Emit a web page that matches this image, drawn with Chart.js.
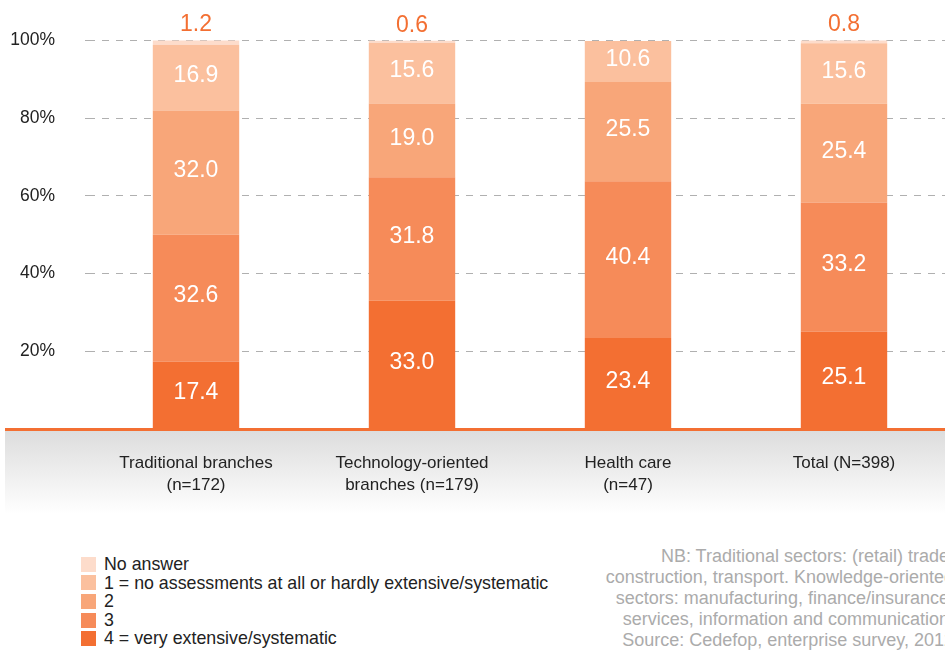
<!DOCTYPE html>
<html>
<head>
<meta charset="utf-8">
<script src="https://cdn.jsdelivr.net/npm/chart.js@4"></script>
<style>
  html, body { margin: 0; padding: 0; width: 945px; height: 650px; overflow: hidden; background: #fff; }
  body { position: relative; font-family: "Liberation Sans", Arial, sans-serif; }
  #wrap { position: absolute; left: 0; top: 0; width: 952px; height: 520px; }
  #legend { position: absolute; left: 81px; top: 555px; font-size: 17.8px; color: #222; }
  #legend div { height: 18.6px; line-height: 18.6px; display: flex; align-items: center; }
  #legend span.box { width: 15px; height: 15px; margin-right: 8px; display: inline-block; }
  #note { position: absolute; right: -9px; top: 546px; font-size: 18px; line-height: 21px; color: #ababab; text-align: right; white-space: nowrap; }
</style>
</head>
<body>
<div id="wrap"><canvas id="chart" width="952" height="520"></canvas></div>
<div id="legend"></div>
<div id="note"></div>
<script>
// ===== data =====
const categories = [
  ['Traditional branches', '(n=172)'],
  ['Technology-oriented', 'branches (n=179)'],
  ['Health care', '(n=47)'],
  'Total (N=398)'
];
const seriesNames = ['4 = very extensive/systematic', '3', '2', '1 = no assessments at all or hardly extensive/systematic', 'No answer'];
const level4   = [17.4, 33.0, 23.4, 25.1];
const level3   = [32.6, 31.8, 40.4, 33.2];
const level2   = [32.0, 19.0, 25.5, 25.4];
const level1   = [16.9, 15.6, 10.6, 15.6];
const noAnswer = [1.2, 0.6, 0, 0.8];
const yTicks = [0, 20, 40, 60, 80, 100];
const noteLines = [
  'NB: Traditional sectors: (retail) trade,',
  'construction, transport. Knowledge-oriented',
  'sectors: manufacturing, finance/insurance,',
  'services, information and communication.',
  'Source: Cedefop, enterprise survey, 2012'
];

const colors = ['#F36F32', '#F68B59', '#F8A679', '#FBC09E', '#FDDCCB'];
const FONT = '"Liberation Sans", Arial, sans-serif';

const seriesValues = [level4, level3, level2, level1, noAnswer];
const datasets = seriesValues.map((vals, i) => ({
  label: seriesNames[i],
  data: vals,
  backgroundColor: colors[i],
  borderWidth: 0,
  barPercentage: 0.8,
  categoryPercentage: 0.5
}));

// gray band + orange axis under the bars, value labels on top
const decor = {
  id: 'decor',
  beforeDraw(chart) {
    const { ctx, chartArea } = chart;
    const y0 = chartArea.bottom;
    const g = ctx.createLinearGradient(0, y0, 0, y0 + 85);
    g.addColorStop(0, '#dcdcdc');
    g.addColorStop(1, '#ffffff');
    ctx.save();
    ctx.fillStyle = g;
    ctx.fillRect(5, y0, chart.width, 85);
    ctx.restore();
  },
  afterDatasetsDraw(chart) {
    const { ctx, chartArea } = chart;
    ctx.save();
    ctx.fillStyle = '#F36F32';
    ctx.fillRect(5, chartArea.bottom - 1, chart.width, 3);
    ctx.font = '23px ' + FONT;
    ctx.textAlign = 'center';
    ctx.textBaseline = 'middle';
    chart.data.datasets.forEach((ds, i) => {
      const meta = chart.getDatasetMeta(i);
      meta.data.forEach((bar, j) => {
        const v = ds.data[j];
        if (!v) return;
        if (i === chart.data.datasets.length - 1) {
          ctx.fillStyle = '#F36F32';
          ctx.fillText(v.toFixed(1), bar.x, bar.y - 15);
        } else {
          ctx.fillStyle = '#ffffff';
          ctx.fillText(v.toFixed(1), bar.x, (bar.y + bar.base) / 2 - 2);
        }
      });
    });
    ctx.restore();
  }
};

new Chart(document.getElementById('chart').getContext('2d'), {
  type: 'bar',
  data: { labels: categories, datasets },
  plugins: [decor],
  options: {
    responsive: false,
    animation: false,
    layout: { padding: { top: 39, right: 0, left: 0, bottom: 0 } },
    plugins: { legend: { display: false }, tooltip: { enabled: false } },
    scales: {
      x: {
        stacked: true,
        grid: { display: false },
        border: { display: false },
        ticks: { color: '#222', font: { family: FONT, size: 17, lineHeight: 1.25 }, padding: 16, maxRotation: 0, autoSkip: false },
        afterFit(scale) { scale.height = 91; }
      },
      y: {
        stacked: true,
        min: 0,
        max: 100,
        afterBuildTicks(scale) { scale.ticks = yTicks.map(v => ({ value: v })); },
        afterFit(scale) { scale.width = 88; },
        border: { display: false, dash: [7, 7] },
        grid: { color: '#b0b0b0', tickLength: 3, drawTicks: true },
        ticks: {
          color: '#222',
          font: { family: FONT, size: 17.5 },
          padding: 30,
          callback: v => v === 0 ? '' : v + '%'
        }
      }
    }
  }
});

// legend (top to bottom: No answer ... 4)
const legend = document.getElementById('legend');
for (let i = seriesNames.length - 1; i >= 0; i--) {
  const row = document.createElement('div');
  row.innerHTML = `<span class="box" style="background:${colors[i]}"></span>${seriesNames[i]}`;
  legend.appendChild(row);
}
document.getElementById('note').innerHTML = noteLines.join('<br>');
</script>
</body>
</html>
